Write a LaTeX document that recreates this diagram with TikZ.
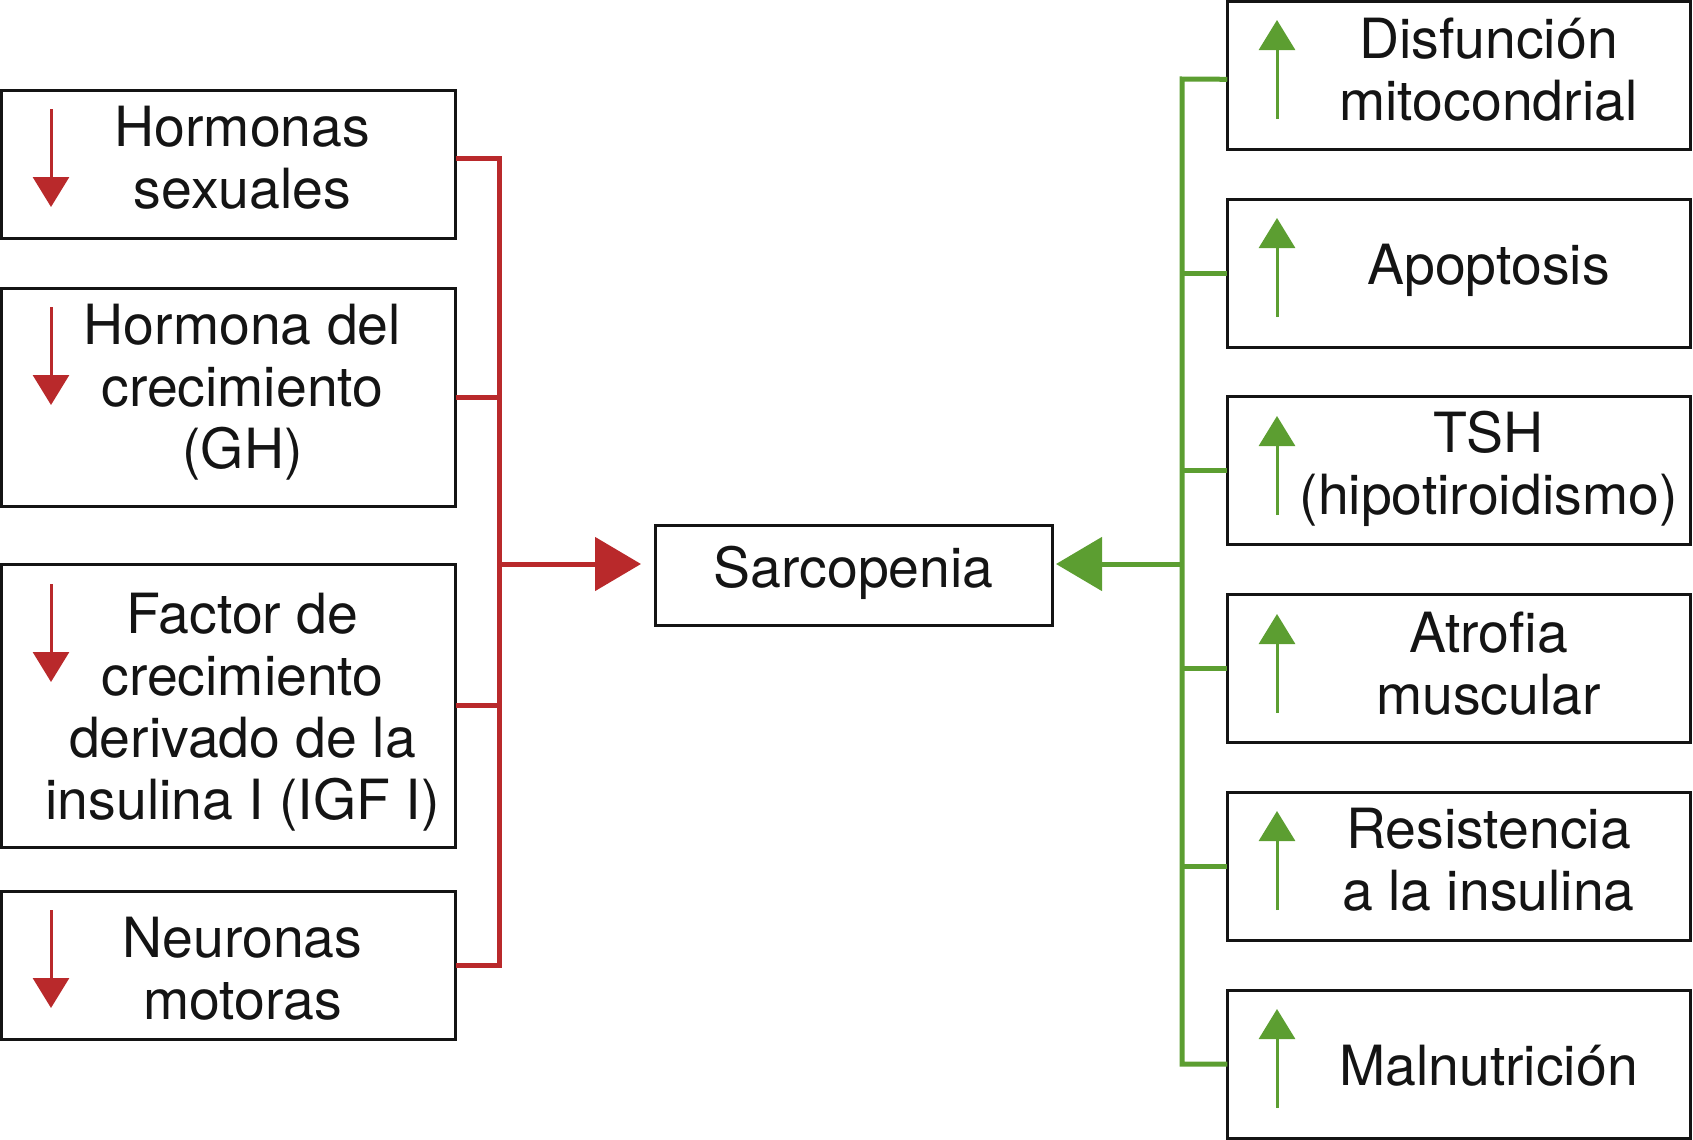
\documentclass[tikz,border=0pt]{standalone}
\usepackage{fontspec}
\setmainfont{TeX Gyre Heros}
\usetikzlibrary{arrows.meta}
\definecolor{cred}{RGB}{185,41,43}
\definecolor{cgreen}{RGB}{92,158,49}
\definecolor{ink}{RGB}{20,20,20}
\begin{document}
\begin{tikzpicture}[x=0.5pt,y=-0.5pt,
  box/.style={draw=ink, line width=1.5pt, rectangle, inner sep=0pt, outer sep=0pt},
  lbox/.style={box, minimum width=227pt},
  rbox/.style={box, minimum width=231.75pt, minimum height=74pt},
  lbl/.style={font=\fontsize{27.7}{31}\selectfont, text=ink, align=center, inner sep=0pt, anchor=base},
  redline/.style={draw=cred, line width=2.5pt, line join=miter},
  greenline/.style={draw=cgreen, line width=2.5pt, line join=miter},
  bigtip/.style={-{Triangle[length=23pt,width=26.5pt]}},
  dnarrow/.style={draw=cred, line width=1.5pt, -{Triangle[length=15pt,width=18pt]}},
  uparrow/.style={draw=cgreen, line width=1.5pt, -{Triangle[length=15pt,width=18pt]}}
]
\useasboundingbox (0,0) rectangle (1693,1140);

% left boxes
\node[lbox, minimum height=73.8pt] (l1) at (228.5,164.5) {};
\node[lbox, minimum height=109.2pt] (l2) at (228.5,397.5) {};
\node[lbox, minimum height=141.5pt] (l3) at (228.5,705.5) {};
\node[lbox, minimum height=74pt] (l4) at (228.5,965) {};

\node[lbl] (l1t) at (242.5,208) {Hormonas\\sexuales};
\node[lbl] (l2t) at (242.5,468) {Hormona del\\crecimiento\\(GH)};
\node[lbl] (l3t) at (242.5,819) {Factor de\\crecimiento\\derivado de la\\insulina I (IGF I)};
\node[lbl] (l4t) at (242.5,1019) {Neuronas\\motoras};

% centre
\node[box, minimum width=198.5pt, minimum height=50pt] (sarc) at (853.5,575) {};
\node[lbl] (sarct) at (853.5,587) {Sarcopenia};

% right boxes
\node[rbox] (r1) at (1459,75.3) {};
\node[rbox] (r2) at (1459,273) {};
\node[rbox] (r3) at (1459,470.5) {};
\node[rbox] (r4) at (1459,668) {};
\node[rbox] (r5) at (1459,866) {};
\node[rbox] (r6) at (1459,1064) {};

\node[lbl] (r1t) at (1488.5,120) {Disfunción\\mitocondrial};
\node[lbl] (r2t) at (1488.5,284) {Apoptosis};
\node[lbl] (r3t) at (1488.5,514) {TSH\\(hipotiroidismo)};
\node[lbl] (r4t) at (1488.5,714) {Atrofia\\muscular};
\node[lbl] (r5t) at (1488.5,910) {Resistencia\\a la insulina};
\node[lbl] (r6t) at (1488.5,1085) {Malnutrición};

% red connectors
\coordinate (rtop) at (499,158);
\coordinate (rbot) at (499,965);
\coordinate (rmid) at (499,564);
\coordinate (sarcL) at (641,564);
\draw[redline] ([yshift=3.25pt]l1.east) -- (rtop) -- (rbot) -- (l4.east);
\draw[redline] (l2.east) -- (l2.east -| rtop);
\draw[redline] (l3.east) -- (l3.east -| rtop);
\draw[redline, bigtip, fill=cred] (rmid) -- (sarcL);

% green connectors
\coordinate (gtop) at (1182,79);
\coordinate (gbot) at (1182,1064);
\coordinate (gmid) at (1182,564);
\coordinate (sarcR) at (1056,564);
\draw[greenline] ([yshift=-2pt]r1.west) -- (gtop) -- (gbot) -- (r6.west);
\foreach \n in {r2,r3,r4,r5} \draw[greenline] (\n.west) -- (\n.west -| gtop);
\draw[greenline, bigtip, fill=cgreen] (gmid) -- (sarcR);

% small arrows
\foreach \y in {109,307,584,910} \draw[dnarrow, fill=cred] (51,\y) -- (51,\y+98);
\foreach \y in {20,218,416,614,811,1009} \draw[uparrow, fill=cgreen] (1277,\y+99) -- (1277,\y);
\end{tikzpicture}
\end{document}
